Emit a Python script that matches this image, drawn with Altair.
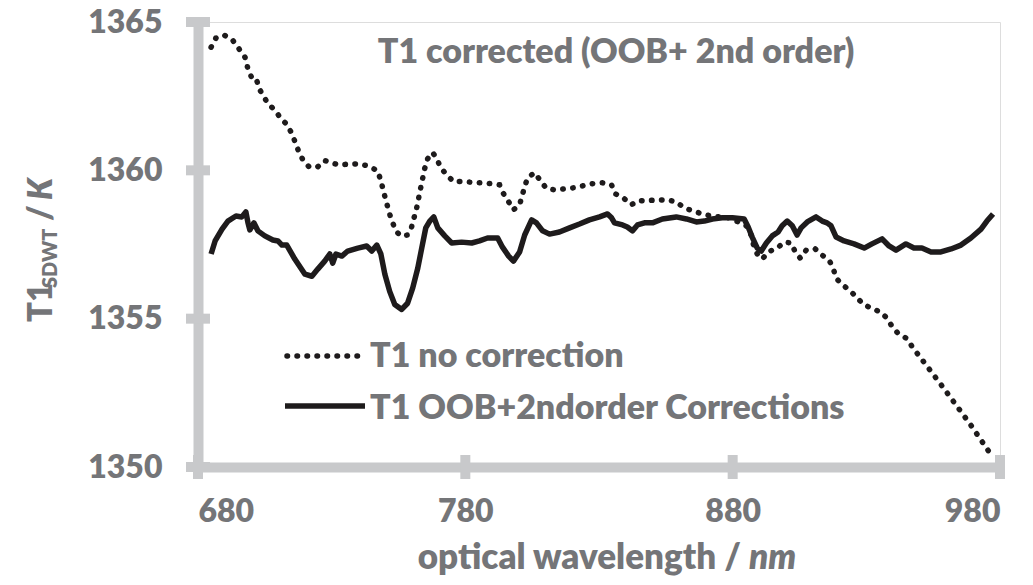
import altair as alt
import pandas as pd

# ---------------- data ----------------
nocorr_wl = [684.9, 686.7, 689.7, 692.7, 694.9, 697.6, 698.7, 700.2, 701.7, 703.2,
             706.1, 708.8, 711.0, 713.2, 715.1, 717.7, 719.2, 721.5, 724.8, 727.4,
             732.3, 739.8, 743.1, 747.2, 748.4, 750.2, 752.1, 754.0, 755.8, 758.4,
             759.9, 761.8, 763.3, 764.8, 765.9, 767.8, 769.3, 770.8, 773.0, 775.6,
             779.0, 789.8, 792.8, 794.3, 796.2, 798.0, 800.3, 802.2, 803.3, 805.9,
             808.1, 810.4, 813.7, 820.5, 827.6, 831.3, 834.7, 836.1, 839.1, 842.1,
             844.7, 855.2, 858.9, 861.9, 865.3, 868.6, 872.0, 878.7, 882.1, 885.1,
             886.9, 887.7, 889.2, 891.1, 893.3, 896.7, 899.3, 901.9, 903.4, 905.3,
             907.5, 910.9, 913.5, 916.1, 917.6, 918.7, 920.9, 923.6, 926.5, 928.8,
             932.1, 935.5, 937.8, 939.6, 941.9, 945.2, 947.1, 957.9, 968.8, 977.5]
nocorr_T = [1364.15, 1364.46, 1364.56, 1364.42, 1364.15, 1363.81, 1363.41, 1363.10, 1363.10, 1362.70,
            1362.26, 1362.02, 1361.75, 1361.55, 1361.24, 1360.63, 1360.36, 1360.12, 1360.12, 1360.33,
            1360.19, 1360.22, 1360.16, 1359.99, 1359.65, 1359.01, 1358.40, 1357.96, 1357.79, 1357.82,
            1358.09, 1358.73, 1359.41, 1360.06, 1360.39, 1360.60, 1360.39, 1360.09, 1359.85, 1359.62,
            1359.62, 1359.55, 1359.51, 1359.21, 1358.94, 1358.67, 1358.84, 1359.45, 1359.75, 1359.92,
            1359.65, 1359.38, 1359.34, 1359.41, 1359.55, 1359.58, 1359.51, 1359.21, 1359.07, 1358.84,
            1358.97, 1359.01, 1358.94, 1358.73, 1358.63, 1358.53, 1358.46, 1358.40, 1358.26, 1358.13,
            1357.82, 1357.52, 1357.18, 1357.01, 1357.25, 1357.38, 1357.58, 1357.55, 1357.25, 1357.04,
            1357.31, 1357.35, 1357.14, 1356.97, 1356.70, 1356.36, 1356.16, 1355.96, 1355.72, 1355.48,
            1355.35, 1355.21, 1355.01, 1354.74, 1354.50, 1354.33, 1354.06, 1352.78, 1351.45, 1350.30]

corr_wl = [684.9, 686.4, 689.0, 691.2, 694.2, 696.4, 697.9, 698.7, 699.4, 700.9,
           702.4, 705.0, 708.0, 709.9, 711.4, 713.2, 716.2, 720.0, 722.6, 724.8,
           727.4, 729.3, 730.4, 731.6, 733.8, 736.0, 739.8, 743.1, 745.0, 746.9,
           748.4, 749.9, 751.7, 753.6, 756.2, 758.4, 760.3, 762.2, 763.7, 765.2,
           766.7, 768.2, 769.7, 772.3, 774.9, 778.6, 782.4, 785.3, 788.3, 792.1,
           793.9, 796.2, 798.0, 800.3, 802.2, 804.8, 806.6, 808.9, 811.5, 815.2,
           819.0, 822.7, 826.4, 830.2, 833.2, 834.7, 835.8, 838.8, 840.6, 842.5,
           844.4, 847.0, 850.0, 853.7, 858.9, 862.7, 866.4, 869.4, 872.4, 876.1,
           879.9, 884.3, 885.8, 887.3, 889.2, 890.7, 892.6, 894.8, 897.0, 898.5,
           900.4, 902.3, 904.1, 905.6, 907.9, 911.2, 913.5, 915.3, 916.8, 918.7,
           921.7, 925.4, 929.2, 932.1, 935.9, 938.5, 941.1, 944.8, 947.8, 950.8,
           954.2, 957.9, 961.7, 965.4, 969.1, 972.9, 975.1, 977.4]
corr_T = [1357.18, 1357.62, 1358.02, 1358.29, 1358.46, 1358.43, 1358.60, 1358.23, 1357.99, 1358.23,
          1357.96, 1357.79, 1357.65, 1357.62, 1357.48, 1357.48, 1357.01, 1356.50, 1356.43, 1356.67,
          1356.94, 1357.18, 1356.87, 1357.18, 1357.11, 1357.28, 1357.38, 1357.45, 1357.28, 1357.48,
          1357.18, 1356.50, 1355.92, 1355.48, 1355.31, 1355.52, 1356.03, 1356.70, 1357.38, 1358.06,
          1358.29, 1358.43, 1358.06, 1357.79, 1357.55, 1357.58, 1357.55, 1357.62, 1357.72, 1357.72,
          1357.41, 1357.11, 1356.94, 1357.25, 1357.82, 1358.33, 1358.23, 1357.96, 1357.85, 1357.92,
          1358.06, 1358.19, 1358.33, 1358.43, 1358.53, 1358.40, 1358.23, 1358.16, 1358.09, 1357.96,
          1358.16, 1358.23, 1358.23, 1358.36, 1358.43, 1358.36, 1358.26, 1358.29, 1358.36, 1358.40,
          1358.40, 1358.36, 1358.09, 1357.75, 1357.38, 1357.28, 1357.55, 1357.79, 1357.92, 1358.13,
          1358.29, 1358.13, 1357.82, 1358.06, 1358.26, 1358.43, 1358.29, 1358.23, 1358.13, 1357.75,
          1357.62, 1357.52, 1357.38, 1357.52, 1357.69, 1357.45, 1357.31, 1357.52, 1357.38, 1357.38,
          1357.25, 1357.25, 1357.35, 1357.48, 1357.72, 1358.02, 1358.29, 1358.53]

x_ticks = [680, 780, 880, 980]
y_ticks = [1350, 1355, 1360, 1365]

title_text = "T1 corrected (OOB+ 2nd order)"
legend_nocorr = "T1 no correction"
legend_corr = "T1 OOB+2ndorder Corrections"
x_title_main = "optical wavelength /"
x_title_unit = "nm"

# ---------------- style ----------------
FONT = "Lato"
WEIGHT = 800
GRAY = "#747578"
AXISC = "#C8C9CB"
LINEC = "#1E1B1C"
W, H = 802, 445

df_nc = pd.DataFrame({"wl": nocorr_wl, "T": nocorr_T})
df_c = pd.DataFrame({"wl": corr_wl, "T": corr_T})

xenc = alt.X("wl:Q", scale=alt.Scale(domain=[680, 980], nice=False, zero=False),
             axis=alt.Axis(values=x_ticks, format="d", ticks=False, grid=False, title=None,
                           domainColor=AXISC, domainWidth=10,
                           labelFont=FONT, labelFontSize=32, labelFontWeight=WEIGHT,
                           labelColor=GRAY, labelPadding=29))
yenc = alt.Y("T:Q", scale=alt.Scale(domain=[1350, 1365], nice=False, zero=False),
             axis=alt.Axis(values=y_ticks, format="d", ticks=False, grid=False, title=None,
                           domainColor=AXISC, domainWidth=10,
                           labelFont=FONT, labelFontSize=32, labelFontWeight=WEIGHT,
                           labelColor=GRAY, labelPadding=36))

line_nc = alt.Chart(df_nc).mark_line(color=LINEC, strokeWidth=5.5, strokeDash=[0.5, 9.5],
                                     strokeCap="round").encode(x=xenc, y=yenc)
line_c = alt.Chart(df_c).mark_line(color=LINEC, strokeWidth=5.5, strokeJoin="round").encode(x=xenc, y=yenc)

xt = alt.Chart(pd.DataFrame({"wl": x_ticks})).mark_tick(
    orient="vertical", size=24, thickness=10, color=AXISC, opacity=1
).encode(x=xenc, y=alt.value(H))
yt = alt.Chart(pd.DataFrame({"T": y_ticks})).mark_tick(
    orient="horizontal", size=24, thickness=10, color=AXISC, opacity=1
).encode(y=yenc, x=alt.value(0))


def txt(text, x, y, size=34, italic=False, angle=0, align="left", baseline="alphabetic"):
    props = dict(text=text, font=FONT, fontSize=size, fontWeight=WEIGHT, color=GRAY,
                 align=align, baseline=baseline)
    if italic:
        props["fontStyle"] = "italic"
    if angle:
        props["angle"] = angle
    return alt.Chart(alt.Data(values=[{}])).mark_text(**props).encode(
        x=alt.value(x), y=alt.value(y))


title = txt(title_text, 418, 41, size=34, align="center")

leg_dot = alt.Chart(alt.Data(values=[{}])).mark_rule(
    color=LINEC, strokeWidth=5.5, strokeDash=[0.5, 9.5], strokeCap="round"
).encode(x=alt.value(89), x2=alt.value(168), y=alt.value(334))
leg_solid = alt.Chart(alt.Data(values=[{}])).mark_rule(
    color=LINEC, strokeWidth=5.5
).encode(x=alt.value(87), x2=alt.value(167), y=alt.value(384))
leg_t1 = txt(legend_nocorr, 172, 345)
leg_t2 = txt(legend_corr, 172, 397)

xt_main = txt(x_title_main, 543, 547, size=35, align="right")
xt_unit = txt(x_title_unit, 551, 547, size=35, italic=True)

yt_T1 = txt("T1", -146, 300, size=33, angle=270)
yt_sub = txt("SDWT", -141, 266, size=20, angle=270)
yt_slash = txt("/", -146, 199, size=33, angle=270)
yt_K = txt("K", -146, 178, size=33, italic=True, angle=270)

chart = alt.layer(
    line_nc, line_c, xt, yt, title, leg_dot, leg_solid, leg_t1, leg_t2,
    xt_main, xt_unit, yt_T1, yt_sub, yt_slash, yt_K
).properties(
    width=W, height=H,
    autosize=alt.AutoSizeParams(type="none"),
    padding={"left": 190, "top": 14, "right": 25, "bottom": 110},
).configure_view(stroke=None).configure(background="white")

chart.save("out.html", embed_options={"renderer": "svg", "actions": False})
